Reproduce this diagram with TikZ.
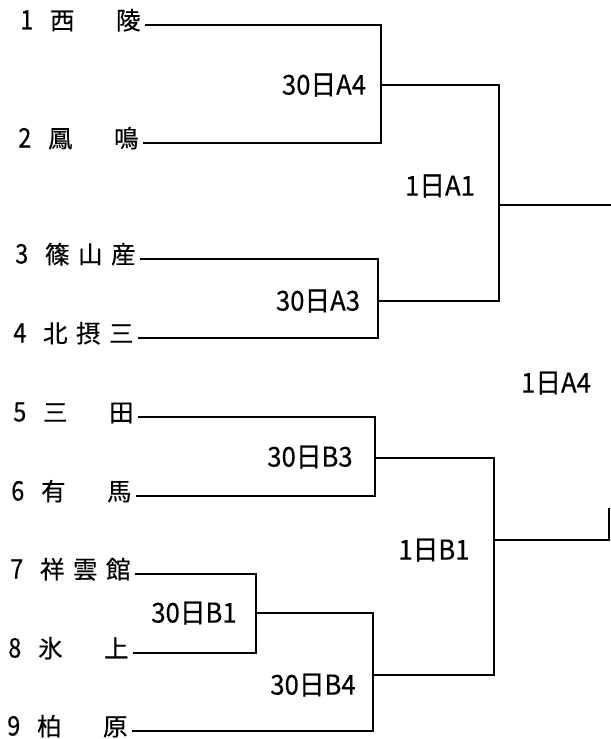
\documentclass[tikz,border=0pt]{standalone}
\usepackage{fontspec}
\setmainfont{Noto Sans CJK JP}[FakeBold=0.4]
\newcommand\slt[1]{\makebox[33bp]{#1}}
\newcommand\nm[1]{\makebox[14bp]{\scalebox{0.95}[1.1]{#1}}\hspace{12bp}}
\newcommand\lb[1]{\scalebox{1.07}[1.14]{#1}}
\begin{document}
\begin{tikzpicture}[x=1bp,y=-1bp,
  team/.style={anchor=east,inner sep=0pt,font=\fontsize{24.5bp}{24.5bp}\selectfont,text height=17bp,text depth=8bp},
  lbl/.style={inner sep=0pt,font=\fontsize{24bp}{24bp}\selectfont},
  bline/.style={line width=1.2bp,black}]
\useasboundingbox (0,0) rectangle (611,739);
% teams
\node[team] (t1) at (145,25) {\nm{1}\slt{西}\slt{}\slt{陵}};
\node[team] (t2) at (143,143) {\nm{2}\slt{鳳}\slt{}\slt{鳴}};
\node[team] (t3) at (140,259) {\nm{3}\slt{篠}\slt{山}\slt{産}};
\node[team] (t4) at (138,338) {\nm{4}\slt{北}\slt{摂}\slt{三}};
\node[team] (t5) at (138,417) {\nm{5}\slt{三}\slt{}\slt{田}};
\node[team] (t6) at (136,496) {\nm{6}\slt{有}\slt{}\slt{馬}};
\node[team] (t7) at (135,574) {\nm{7}\slt{祥}\slt{雲}\slt{館}};
\node[team] (t8) at (133,653) {\nm{8}\slt{氷}\slt{}\slt{上}};
\node[team] (t9) at (132,731) {\nm{9}\slt{柏}\slt{}\slt{原}};
% bracket points
\coordinate (qA4) at (381,85);
\coordinate (qA3) at (378,301);
\coordinate (rA1) at (499,205);
\coordinate (endA) at (611,205);
\coordinate (qB3) at (375,458);
\coordinate (qB1) at (256,613);
\coordinate (qB4) at (373,675);
\coordinate (rB1) at (494,540);
\coordinate (fB) at (609,508);
% lines
\draw[bline] (t1.east) -| (qA4) |- (t2.east);
\draw[bline] (t3.east) -| (qA3) |- (t4.east);
\draw[bline] (qA4) -| (rA1) |- (qA3);
\draw[bline] (rA1) -- (endA);
\draw[bline] (t5.east) -| (qB3) |- (t6.east);
\draw[bline] (t7.east) -| (qB1) |- (t8.east);
\draw[bline] (qB1) -| (qB4) |- (t9.east);
\draw[bline] (qB3) -| (rB1) |- (qB4);
\draw[bline] (rB1) -| (fB);
% labels
\node[lbl] (lA4) at (324,85) {\lb{30日A4}};
\node[lbl] (lA3) at (318,301) {\lb{30日A3}};
\node[lbl] (lA1) at (440,186) {\lb{1日A1}};
\node[lbl] (lF) at (556,383) {\lb{1日A4}};
\node[lbl] (lB3) at (310,457) {\lb{30日B3}};
\node[lbl] (lBB1) at (434,550) {\lb{1日B1}};
\node[lbl] (lB1) at (194,613) {\lb{30日B1}};
\node[lbl] (lB4) at (313,685) {\lb{30日B4}};
\end{tikzpicture}
\end{document}
